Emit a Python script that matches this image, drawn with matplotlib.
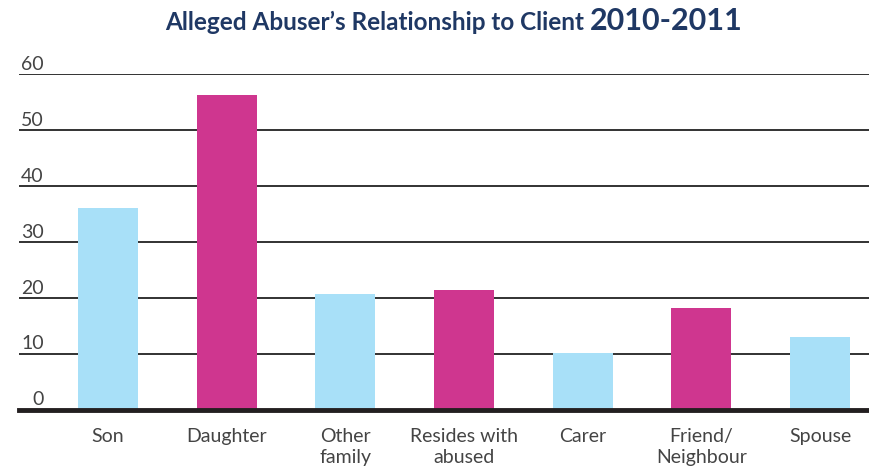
import matplotlib
matplotlib.use("Agg")
import matplotlib.pyplot as plt
import matplotlib.transforms as mtransforms

categories = ["Son", "Daughter", "Other\nfamily", "Resides with\nabused", "Carer", "Friend/\nNeighbour", "Spouse"]
values = [36, 56.3, 20.7, 21.4, 10.1, 18.2, 13]
bar_colors = ["#a8e0f8", "#cf368f", "#a8e0f8", "#cf368f", "#a8e0f8", "#cf368f", "#a8e0f8"]
yticks = [0, 10, 20, 30, 40, 50, 60]

plt.rcParams['font.family'] = ['Lato', 'DejaVu Sans']

fig = plt.figure(figsize=(8.7, 4.7), dpi=100)
ax = fig.add_axes([19/870, (470-409.5)/470, 851/870, (409.5-74.3)/470])

x = list(range(len(categories)))
ax.bar(x, values, width=0.505, color=bar_colors, zorder=3)
ax.set_xlim(-0.75, 6.42)
ax.set_ylim(0, 60)

for v in yticks[1:]:
    ax.axhline(v, color="#222222", lw=1.3, zorder=1)
ax.axhline(0, color="#231f20", lw=3.5, zorder=4, clip_on=False)

for s in ax.spines.values():
    s.set_visible(False)
ax.set_yticks([])
ax.set_xticks(x)
ax.set_xticklabels(categories, fontsize=14, color="#444444", fontweight='normal', linespacing=1.3)
ax.tick_params(axis='x', length=0, pad=13)

off = mtransforms.offset_copy(ax.get_yaxis_transform(), fig=fig, x=0, y=3, units='points')
for v in yticks:
    ax.text(0.029, v, str(v), transform=off, ha='right', va='baseline',
            fontsize=14, color="#444444", fontweight='normal')

navy = "#1f3864"
t1 = fig.text(0.5, 1 - 30/470, "Alleged Abuser\u2019s Relationship to Client ", ha='left', va='baseline',
              fontsize=17.5, fontweight='bold', color=navy)
t2 = fig.text(0.5, 1 - 30/470, "2010-2011", ha='left', va='baseline', fontsize=22, fontweight='bold', color=navy)
fig.canvas.draw()
w1 = t1.get_window_extent().width
w2 = t2.get_window_extent().width
start = 454 - (w1 + w2) / 2
t1.set_x(start / 870)
t2.set_x((start + w1) / 870)

fig.savefig("out.png", dpi=100)
